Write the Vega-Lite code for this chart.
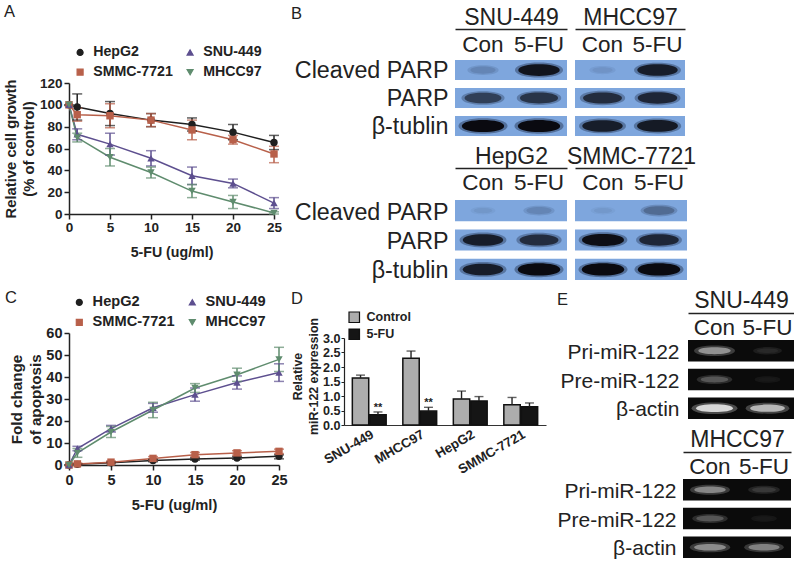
{"$schema":"https://vega.github.io/schema/vega-lite/v6.json","padding":{"left":3,"top":0,"right":0,"bottom":0},"background":"white","bounds":"flush","spacing":212,
"config":{"view":{"stroke":null},"font":"Liberation Sans","title":{"font":"Liberation Sans","fontWeight":"normal","fontSize":16.5,"color":"#222","anchor":"start","frame":"group"},
"axis":{"labelFont":"Liberation Sans","titleFont":"Liberation Sans","labelColor":"#222","titleColor":"#222","grid":false,"labelFlush":false}},
"datasets":{
"growth":[
{"cell":"HepG2","dose":0,"v":100,"lo":100,"hi":100},{"cell":"HepG2","dose":1,"v":98,"lo":86,"hi":110},{"cell":"HepG2","dose":5,"v":92,"lo":81,"hi":103},{"cell":"HepG2","dose":10,"v":86,"lo":80,"hi":92},{"cell":"HepG2","dose":15,"v":82,"lo":76,"hi":88},{"cell":"HepG2","dose":20,"v":75,"lo":68,"hi":82},{"cell":"HepG2","dose":25,"v":65.5,"lo":59,"hi":72},
{"cell":"SMMC-7721","dose":0,"v":100,"lo":100,"hi":100},{"cell":"SMMC-7721","dose":1,"v":91,"lo":85,"hi":97},{"cell":"SMMC-7721","dose":5,"v":90,"lo":79,"hi":101},{"cell":"SMMC-7721","dose":10,"v":86,"lo":80,"hi":92},{"cell":"SMMC-7721","dose":15,"v":77,"lo":68,"hi":86},{"cell":"SMMC-7721","dose":20,"v":68,"lo":64,"hi":72},{"cell":"SMMC-7721","dose":25,"v":55,"lo":47,"hi":62},
{"cell":"SNU-449","dose":0,"v":100,"lo":100,"hi":100},{"cell":"SNU-449","dose":1,"v":73,"lo":68,"hi":78},{"cell":"SNU-449","dose":5,"v":64,"lo":54,"hi":74},{"cell":"SNU-449","dose":10,"v":51,"lo":44,"hi":58},{"cell":"SNU-449","dose":15,"v":35,"lo":27,"hi":43},{"cell":"SNU-449","dose":20,"v":28,"lo":24,"hi":32},{"cell":"SNU-449","dose":25,"v":10,"lo":5,"hi":15},
{"cell":"MHCC97","dose":0,"v":100,"lo":100,"hi":100},{"cell":"MHCC97","dose":1,"v":70,"lo":66,"hi":74},{"cell":"MHCC97","dose":5,"v":52,"lo":44,"hi":60},{"cell":"MHCC97","dose":10,"v":38,"lo":33,"hi":43},{"cell":"MHCC97","dose":15,"v":21,"lo":15,"hi":27},{"cell":"MHCC97","dose":20,"v":11,"lo":5,"hi":17},{"cell":"MHCC97","dose":25,"v":1,"lo":0,"hi":2}],
"apoptosis":[
{"cell":"HepG2","dose":0,"v":0,"lo":0,"hi":0},{"cell":"HepG2","dose":1,"v":0.3,"lo":0,"hi":0.6},{"cell":"HepG2","dose":5,"v":1,"lo":0.6,"hi":1.4},{"cell":"HepG2","dose":10,"v":2,"lo":1.5,"hi":2.5},{"cell":"HepG2","dose":15,"v":2.7,"lo":2.2,"hi":3.2},{"cell":"HepG2","dose":20,"v":3.2,"lo":2.6,"hi":3.8},{"cell":"HepG2","dose":25,"v":4,"lo":2.8,"hi":4.6},
{"cell":"SMMC-7721","dose":0,"v":0,"lo":0,"hi":0},{"cell":"SMMC-7721","dose":1,"v":0.5,"lo":0.1,"hi":0.9},{"cell":"SMMC-7721","dose":5,"v":1.3,"lo":0.8,"hi":1.8},{"cell":"SMMC-7721","dose":10,"v":3,"lo":2.2,"hi":3.8},{"cell":"SMMC-7721","dose":15,"v":4.7,"lo":3.7,"hi":5.7},{"cell":"SMMC-7721","dose":20,"v":5.5,"lo":4.5,"hi":6.5},{"cell":"SMMC-7721","dose":25,"v":6.2,"lo":5.2,"hi":7.2},
{"cell":"SNU-449","dose":0,"v":0,"lo":0,"hi":0},{"cell":"SNU-449","dose":1,"v":7.5,"lo":6.5,"hi":8.5},{"cell":"SNU-449","dose":5,"v":16.5,"lo":15,"hi":18},{"cell":"SNU-449","dose":10,"v":26,"lo":24,"hi":28},{"cell":"SNU-449","dose":15,"v":32,"lo":29,"hi":35},{"cell":"SNU-449","dose":20,"v":37.5,"lo":34.5,"hi":40.5},{"cell":"SNU-449","dose":25,"v":42,"lo":38,"hi":46},
{"cell":"MHCC97","dose":0,"v":0,"lo":0,"hi":0},{"cell":"MHCC97","dose":1,"v":5.5,"lo":3.5,"hi":7.5},{"cell":"MHCC97","dose":5,"v":15,"lo":12.5,"hi":17.5},{"cell":"MHCC97","dose":10,"v":25,"lo":21.5,"hi":28.5},{"cell":"MHCC97","dose":15,"v":35,"lo":33,"hi":37},{"cell":"MHCC97","dose":20,"v":41,"lo":38,"hi":44},{"cell":"MHCC97","dose":25,"v":48,"lo":42.5,"hi":53.5}],
"expr":[
{"cell":"SNU-449","group":"Control","v":1.62,"hi":1.72},{"cell":"SNU-449","group":"5-FU","v":0.35,"hi":0.45,"mark":"**"},
{"cell":"MHCC97","group":"Control","v":2.3,"hi":2.55},{"cell":"MHCC97","group":"5-FU","v":0.48,"hi":0.61,"mark":"**"},
{"cell":"HepG2","group":"Control","v":0.9,"hi":1.17},{"cell":"HepG2","group":"5-FU","v":0.83,"hi":0.98},
{"cell":"SMMC-7721","group":"Control","v":0.7,"hi":0.95},{"cell":"SMMC-7721","group":"5-FU","v":0.63,"hi":0.76}],
"blots":[
{"cell":"SNU-449","protein":"Cleaved PARP","lane":"Con","s":0.25},{"cell":"SNU-449","protein":"Cleaved PARP","lane":"5-FU","s":0.95},{"cell":"SNU-449","protein":"PARP","lane":"Con","s":0.72},{"cell":"SNU-449","protein":"PARP","lane":"5-FU","s":0.78},{"cell":"SNU-449","protein":"β-tublin","lane":"Con","s":1},{"cell":"SNU-449","protein":"β-tublin","lane":"5-FU","s":1},
{"cell":"MHCC97","protein":"Cleaved PARP","lane":"Con","s":0.1},{"cell":"MHCC97","protein":"Cleaved PARP","lane":"5-FU","s":0.9},{"cell":"MHCC97","protein":"PARP","lane":"Con","s":0.82},{"cell":"MHCC97","protein":"PARP","lane":"5-FU","s":0.85},{"cell":"MHCC97","protein":"β-tublin","lane":"Con","s":0.9},{"cell":"MHCC97","protein":"β-tublin","lane":"5-FU","s":0.92},
{"cell":"HepG2","protein":"Cleaved PARP","lane":"Con","s":0.06},{"cell":"HepG2","protein":"Cleaved PARP","lane":"5-FU","s":0.25},{"cell":"HepG2","protein":"PARP","lane":"Con","s":0.9},{"cell":"HepG2","protein":"PARP","lane":"5-FU","s":0.82},{"cell":"HepG2","protein":"β-tublin","lane":"Con","s":0.9},{"cell":"HepG2","protein":"β-tublin","lane":"5-FU","s":1},
{"cell":"SMMC-7721","protein":"Cleaved PARP","lane":"Con","s":0.05},{"cell":"SMMC-7721","protein":"Cleaved PARP","lane":"5-FU","s":0.45},{"cell":"SMMC-7721","protein":"PARP","lane":"Con","s":0.98},{"cell":"SMMC-7721","protein":"PARP","lane":"5-FU","s":0.85},{"cell":"SMMC-7721","protein":"β-tublin","lane":"Con","s":1},{"cell":"SMMC-7721","protein":"β-tublin","lane":"5-FU","s":1}],
"gels":[
{"cell":"SNU-449","rna":"Pri-miR-122","lane":"Con","s":0.75},{"cell":"SNU-449","rna":"Pri-miR-122","lane":"5-FU","s":0.25},{"cell":"SNU-449","rna":"Pre-miR-122","lane":"Con","s":0.5},{"cell":"SNU-449","rna":"Pre-miR-122","lane":"5-FU","s":0.15},{"cell":"SNU-449","rna":"β-actin","lane":"Con","s":1},{"cell":"SNU-449","rna":"β-actin","lane":"5-FU","s":0.88},
{"cell":"MHCC97","rna":"Pri-miR-122","lane":"Con","s":0.7},{"cell":"MHCC97","rna":"Pri-miR-122","lane":"5-FU","s":0.35},{"cell":"MHCC97","rna":"Pre-miR-122","lane":"Con","s":0.5},{"cell":"MHCC97","rna":"Pre-miR-122","lane":"5-FU","s":0.15},{"cell":"MHCC97","rna":"β-actin","lane":"Con","s":0.72},{"cell":"MHCC97","rna":"β-actin","lane":"5-FU","s":0.68}]
},
"hconcat":[
{"bounds":"flush","spacing":0,"resolve":{"scale":{"color":"independent","shape":"independent"},"legend":{"color":"independent"}},"vconcat":[
 {"width":10,"height":83,"data":{"values":[{"s":1}]},"mark":{"type":"point","opacity":0}},
 {"width":205,"height":131,"title":{"text":"A","offset":25,"dx":-65},"data":{"name":"growth"},
  "encoding":{"x":{"field":"dose","type":"quantitative","scale":{"domain":[0,25],"nice":false},"axis":{"values":[0,5,10,15,20,25],"title":"5-FU (ug/ml)","labelFontSize":13.5,"labelFontWeight":"bold","titleFontSize":14.2,"titleFontWeight":"bold","domainColor":"#222","tickColor":"#222","domainWidth":1.5,"tickWidth":1.5,"tickSize":5,"labelPadding":1,"titlePadding":12}},
   "color":{"field":"cell","type":"nominal","scale":{"domain":["HepG2","SMMC-7721","SNU-449","MHCC97"],"range":["#1f1f1f","#b8604a","#5d4f8f","#5f8c6e"]},"legend":null}},
  "layer":[
   {"mark":{"type":"line","strokeWidth":1.5},"encoding":{"y":{"field":"v","type":"quantitative","scale":{"domain":[0,120],"nice":false},"axis":{"values":[0,20,40,60,80,100,120],"labelOverlap":false,"title":["Relative cell growth","(% of control)"],"labelFontSize":13.5,"labelFontWeight":"bold","titleFontSize":14.8,"titleFontWeight":"bold","domainColor":"#222","tickColor":"#222","domainWidth":1.5,"tickWidth":1.5,"tickSize":5,"labelPadding":2,"titlePadding":3,"titleLineHeight":18}},
     "color":{"field":"cell","type":"nominal","legend":{"title":null,"orient":"none","legendX":4,"legendY":-38,"columns":2,"columnPadding":10,"rowPadding":5,"labelFont":"Liberation Sans","labelFontSize":14.2,"labelFontWeight":"bold","labelColor":"#222","labelOffset":6,"symbolSize":36,"symbolStrokeWidth":1.2,
       "encode":{"symbols":{"update":{"shape":{"signal":"{'HepG2':'circle','SMMC-7721':'square','SNU-449':'triangle-up','MHCC97':'triangle-down'}[datum.value]"},"fill":{"signal":"{'HepG2':'#1f1f1f','SMMC-7721':'#b8604a','SNU-449':'#5d4f8f','MHCC97':'#5f8c6e'}[datum.value]"}}}}}}}},
   {"mark":{"type":"rule","strokeWidth":1.5},"encoding":{"y":{"field":"lo","type":"quantitative","axis":{"values":[0,20,40,60,80,100,120]}},"y2":{"field":"hi"}}},
   {"mark":{"type":"tick","orient":"horizontal","size":10,"thickness":1.5},"encoding":{"y":{"field":"lo","type":"quantitative","axis":{"values":[0,20,40,60,80,100,120]}}}},
   {"mark":{"type":"tick","orient":"horizontal","size":10,"thickness":1.5},"encoding":{"y":{"field":"hi","type":"quantitative","axis":{"values":[0,20,40,60,80,100,120]}}}},
   {"mark":{"type":"point","filled":true,"opacity":1,"size":55},"encoding":{"y":{"field":"v","type":"quantitative","axis":{"values":[0,20,40,60,80,100,120]}},"shape":{"field":"cell","type":"nominal","scale":{"domain":["HepG2","SMMC-7721","SNU-449","MHCC97"],"range":["circle","square","triangle-up","triangle-down"]},"legend":null}}}
  ]},
 {"width":10,"height":119,"data":{"values":[{"s":1}]},"mark":{"type":"point","opacity":0}},
 {"width":210,"height":132,"title":{"text":"C","offset":-11,"dx":-64},"data":{"name":"apoptosis"},
  "encoding":{"x":{"field":"dose","type":"quantitative","scale":{"domain":[0,25],"nice":false},"axis":{"values":[0,5,10,15,20,25],"title":"5-FU (ug/ml)","labelFontSize":14.5,"labelFontWeight":"bold","titleFontSize":14.7,"titleFontWeight":"bold","domainColor":"#222","tickColor":"#222","domainWidth":1.5,"tickWidth":1.5,"tickSize":5,"labelPadding":3,"titlePadding":11}},
   "color":{"field":"cell","type":"nominal","scale":{"domain":["HepG2","SMMC-7721","SNU-449","MHCC97"],"range":["#1f1f1f","#b8604a","#5d4f8f","#5f8c6e"]},"legend":null}},
  "layer":[
   {"mark":{"type":"line","strokeWidth":1.5},"encoding":{"y":{"field":"v","type":"quantitative","scale":{"domain":[0,60],"nice":false},"axis":{"values":[0,10,20,30,40,50,60],"labelOverlap":false,"title":["Fold change","of apoptosis"],"labelFontSize":14.5,"labelFontWeight":"bold","titleFontSize":15.2,"titleFontWeight":"bold","domainColor":"#222","tickColor":"#222","domainWidth":1.5,"tickWidth":1.5,"tickSize":5,"labelPadding":2,"titlePadding":2,"titleLineHeight":19}},
     "color":{"field":"cell","type":"nominal","legend":{"title":null,"orient":"none","legendX":3,"legendY":-38,"columns":2,"columnPadding":10,"rowPadding":5,"labelFont":"Liberation Sans","labelFontSize":14.6,"labelFontWeight":"bold","labelColor":"#222","labelOffset":6,"symbolSize":36,"symbolStrokeWidth":1.2,
       "encode":{"symbols":{"update":{"shape":{"signal":"{'HepG2':'circle','SMMC-7721':'square','SNU-449':'triangle-up','MHCC97':'triangle-down'}[datum.value]"},"fill":{"signal":"{'HepG2':'#1f1f1f','SMMC-7721':'#b8604a','SNU-449':'#5d4f8f','MHCC97':'#5f8c6e'}[datum.value]"}}}}}}}},
   {"mark":{"type":"rule","strokeWidth":1.5},"encoding":{"y":{"field":"lo","type":"quantitative","axis":{"values":[0,10,20,30,40,50,60]}},"y2":{"field":"hi"}}},
   {"mark":{"type":"tick","orient":"horizontal","size":10,"thickness":1.5},"encoding":{"y":{"field":"lo","type":"quantitative","axis":{"values":[0,10,20,30,40,50,60]}}}},
   {"mark":{"type":"tick","orient":"horizontal","size":10,"thickness":1.5},"encoding":{"y":{"field":"hi","type":"quantitative","axis":{"values":[0,10,20,30,40,50,60]}}}},
   {"mark":{"type":"point","filled":true,"opacity":1,"size":55},"encoding":{"y":{"field":"v","type":"quantitative","axis":{"values":[0,10,20,30,40,50,60]}},"shape":{"field":"cell","type":"nominal","scale":{"domain":["HepG2","SMMC-7721","SNU-449","MHCC97"],"range":["circle","square","triangle-up","triangle-down"]},"legend":null}}}
  ]}
]},
{"bounds":"flush","spacing":0,"vconcat":[
 {"width":10,"height":60,"data":{"values":[{"s":1}]},"mark":{"type":"point","opacity":0}},
 {"bounds":"flush","spacing":8,"hconcat":[
  {"width":166,"height":76,"data":{"values":[{"s":1}]},"mark":{"type":"point","opacity":0}},
  {"width":112,"height":76,"title":{"text":"B","offset":-16,"dx":-164},"data":{"name":"blots"},"transform":[{"filter":"datum.cell==='SNU-449'"}],
   "resolve":{"scale":{"size":"independent","opacity":"independent"}},
   "encoding":{"x":{"field":"lane","type":"nominal","sort":["Con","5-FU"],"scale":{"type":"band","padding":0},"axis":{"orient":"top","offset":31,"title":"SNU-449","titleFontSize":23,"titleFontWeight":"normal","titlePadding":-1,"labelAngle":0,"labelFontSize":22.5,"labelPadding":-27,"tickSize":0,"domainColor":"#222","domainWidth":1.6}},
    "y":{"field":"protein","type":"nominal","sort":["Cleaved PARP","PARP","β-tublin"],"scale":{"type":"band","paddingInner":0.28,"paddingOuter":0},"axis":{"title":null,"domain":false,"ticks":false,"labelFontSize":23.3,"labelPadding":7,"labelLimit":300,"labelOffset":1}}},
   "layer":[
    {"mark":{"type":"rect","fill":"#7ea6dd"}},
    {"mark":{"type":"point","filled":true,"fill":"#14203a","shape":"M-1,0C-1,-0.42 1,-0.42 1,0C1,0.42 -1,0.42 -1,0Z"},"encoding":{"size":{"field":"s","type":"quantitative","legend":null,"scale":{"domain":[0,1],"range":[500,2400]}},"opacity":{"field":"s","type":"quantitative","legend":null,"scale":{"domain":[0,1],"range":[0.03,0.4]}}}},
    {"mark":{"type":"point","filled":true,"fill":"#0a0a10","shape":"M-1,0C-1,-0.38 1,-0.38 1,0C1,0.38 -1,0.38 -1,0Z"},"encoding":{"size":{"field":"s","type":"quantitative","legend":null,"scale":{"domain":[0,1],"range":[250,1800]}},"opacity":{"field":"s","type":"quantitative","legend":null,"scale":{"type":"pow","exponent":2,"domain":[0,1],"range":[0.05,1]}}}}
   ]},
  {"width":110,"height":76,"data":{"name":"blots"},"transform":[{"filter":"datum.cell==='MHCC97'"}],
   "resolve":{"scale":{"size":"independent","opacity":"independent"}},
   "encoding":{"x":{"field":"lane","type":"nominal","sort":["Con","5-FU"],"scale":{"type":"band","padding":0},"axis":{"orient":"top","offset":31,"title":"MHCC97","titleFontSize":23,"titleFontWeight":"normal","titlePadding":-1,"labelAngle":0,"labelFontSize":22.5,"labelPadding":-27,"tickSize":0,"domainColor":"#222","domainWidth":1.6}},
    "y":{"field":"protein","type":"nominal","sort":["Cleaved PARP","PARP","β-tublin"],"scale":{"type":"band","paddingInner":0.28,"paddingOuter":0},"axis":null}},
   "layer":[
    {"mark":{"type":"rect","fill":"#7ea6dd"}},
    {"mark":{"type":"point","filled":true,"fill":"#14203a","shape":"M-1,0C-1,-0.42 1,-0.42 1,0C1,0.42 -1,0.42 -1,0Z"},"encoding":{"size":{"field":"s","type":"quantitative","legend":null,"scale":{"domain":[0,1],"range":[500,2400]}},"opacity":{"field":"s","type":"quantitative","legend":null,"scale":{"domain":[0,1],"range":[0.03,0.4]}}}},
    {"mark":{"type":"point","filled":true,"fill":"#0a0a10","shape":"M-1,0C-1,-0.38 1,-0.38 1,0C1,0.38 -1,0.38 -1,0Z"},"encoding":{"size":{"field":"s","type":"quantitative","legend":null,"scale":{"domain":[0,1],"range":[250,1800]}},"opacity":{"field":"s","type":"quantitative","legend":null,"scale":{"type":"pow","exponent":2,"domain":[0,1],"range":[0.05,1]}}}}
   ]}
 ]},
 {"width":10,"height":140,"data":{"values":[{"s":1}]},"mark":{"type":"point","opacity":0}},
 {"bounds":"flush","spacing":8,"hconcat":[
  {"width":166,"height":80,"data":{"values":[{"s":1}]},"mark":{"type":"point","opacity":0}},
  {"width":112,"height":80,"data":{"name":"blots"},"transform":[{"filter":"datum.cell==='HepG2'"}],
   "resolve":{"scale":{"size":"independent","opacity":"independent"}},
   "encoding":{"x":{"field":"lane","type":"nominal","sort":["Con","5-FU"],"scale":{"type":"band","padding":0},"axis":{"orient":"top","offset":32,"title":"HepG2","titleFontSize":23,"titleFontWeight":"normal","titlePadding":-1,"labelAngle":0,"labelFontSize":22.5,"labelPadding":-26,"tickSize":0,"domainColor":"#222","domainWidth":1.6}},
    "y":{"field":"protein","type":"nominal","sort":["Cleaved PARP","PARP","β-tublin"],"scale":{"type":"band","paddingInner":0.28,"paddingOuter":0},"axis":{"title":null,"domain":false,"ticks":false,"labelFontSize":23.3,"labelPadding":7,"labelLimit":300,"labelOffset":2}}},
   "layer":[
    {"mark":{"type":"rect","fill":"#7ea6dd"}},
    {"mark":{"type":"point","filled":true,"fill":"#14203a","shape":"M-1,0C-1,-0.42 1,-0.42 1,0C1,0.42 -1,0.42 -1,0Z"},"encoding":{"size":{"field":"s","type":"quantitative","legend":null,"scale":{"domain":[0,1],"range":[500,2400]}},"opacity":{"field":"s","type":"quantitative","legend":null,"scale":{"domain":[0,1],"range":[0.03,0.4]}}}},
    {"mark":{"type":"point","filled":true,"fill":"#0a0a10","shape":"M-1,0C-1,-0.38 1,-0.38 1,0C1,0.38 -1,0.38 -1,0Z"},"encoding":{"size":{"field":"s","type":"quantitative","legend":null,"scale":{"domain":[0,1],"range":[250,1800]}},"opacity":{"field":"s","type":"quantitative","legend":null,"scale":{"type":"pow","exponent":2,"domain":[0,1],"range":[0.05,1]}}}}
   ]},
  {"width":112,"height":80,"data":{"name":"blots"},"transform":[{"filter":"datum.cell==='SMMC-7721'"}],
   "resolve":{"scale":{"size":"independent","opacity":"independent"}},
   "encoding":{"x":{"field":"lane","type":"nominal","sort":["Con","5-FU"],"scale":{"type":"band","padding":0},"axis":{"orient":"top","offset":32,"title":"SMMC-7721","titleFontSize":23,"titleFontWeight":"normal","titlePadding":-1,"labelAngle":0,"labelFontSize":22.5,"labelPadding":-26,"tickSize":0,"domainColor":"#222","domainWidth":1.6}},
    "y":{"field":"protein","type":"nominal","sort":["Cleaved PARP","PARP","β-tublin"],"scale":{"type":"band","paddingInner":0.28,"paddingOuter":0},"axis":null}},
   "layer":[
    {"mark":{"type":"rect","fill":"#7ea6dd"}},
    {"mark":{"type":"point","filled":true,"fill":"#14203a","shape":"M-1,0C-1,-0.42 1,-0.42 1,0C1,0.42 -1,0.42 -1,0Z"},"encoding":{"size":{"field":"s","type":"quantitative","legend":null,"scale":{"domain":[0,1],"range":[500,2400]}},"opacity":{"field":"s","type":"quantitative","legend":null,"scale":{"domain":[0,1],"range":[0.03,0.4]}}}},
    {"mark":{"type":"point","filled":true,"fill":"#0a0a10","shape":"M-1,0C-1,-0.38 1,-0.38 1,0C1,0.38 -1,0.38 -1,0Z"},"encoding":{"size":{"field":"s","type":"quantitative","legend":null,"scale":{"domain":[0,1],"range":[250,1800]}},"opacity":{"field":"s","type":"quantitative","legend":null,"scale":{"type":"pow","exponent":2,"domain":[0,1],"range":[0.05,1]}}}}
   ]}
 ]},
 {"width":10,"height":138,"data":{"values":[{"s":1}]},"mark":{"type":"point","opacity":0}},
 {"bounds":"flush","spacing":0,"hconcat":[
  {"width":63,"height":10,"data":{"values":[{"s":1}]},"mark":{"type":"point","opacity":0}},
  {"width":202,"height":87,"title":{"text":"D","offset":10,"dx":-53},"data":{"name":"expr"},
   "encoding":{"x":{"field":"cell","type":"nominal","sort":["SNU-449","MHCC97","HepG2","SMMC-7721"],"scale":{"type":"band","paddingInner":0.33,"paddingOuter":0.165},"axis":{"title":null,"labelAngle":-30,"labelAlign":"right","labelBaseline":"top","labelFontSize":13.3,"labelFontWeight":"bold","ticks":false,"labelPadding":2,"domainColor":"#333","domainWidth":1.2,"labelOverlap":false}},
    "xOffset":{"field":"group","type":"nominal","sort":["Control","5-FU"],"scale":{"paddingInner":0.06}}},
   "layer":[
    {"mark":{"type":"bar","stroke":"#111","strokeWidth":1.5},"encoding":{"y":{"field":"v","type":"quantitative","scale":{"domain":[0,3],"nice":false},"axis":{"values":[0,0.5,1,1.5,2,2.5,3],"labelOverlap":false,"format":".1f","title":["Relative","miR-122 expression"],"labelFontSize":12.6,"labelFontWeight":"bold","titleFontSize":12.4,"titleFontWeight":"bold","domainColor":"#222","tickColor":"#222","domainWidth":1.2,"tickSize":3,"labelPadding":1,"titlePadding":2,"titleLineHeight":16,"titleY":38}},
      "fill":{"field":"group","type":"nominal","scale":{"domain":["Control","5-FU"],"range":["#adadad","#151515"]},"legend":{"title":null,"orient":"none","legendX":279,"legendY":311,"rowPadding":1,"labelFont":"Liberation Sans","labelFontSize":12.5,"labelFontWeight":"bold","labelColor":"#222","labelOffset":6,"symbolType":"square","symbolSize":110,"symbolStrokeColor":"#111","symbolStrokeWidth":1.2}}}},
    {"mark":{"type":"rule","stroke":"#222","strokeWidth":1.4},"encoding":{"y":{"field":"v","type":"quantitative","axis":{"values":[0,0.5,1,1.5,2,2.5,3]}},"y2":{"field":"hi"}}},
    {"mark":{"type":"tick","orient":"horizontal","size":9,"thickness":1.4,"color":"#222"},"encoding":{"y":{"field":"hi","type":"quantitative","axis":{"values":[0,0.5,1,1.5,2,2.5,3]}}}},
    {"transform":[{"filter":"isValid(datum.mark)"}],"mark":{"type":"text","fontWeight":"bold","fontSize":11,"color":"#222","dy":1,"baseline":"bottom"},"encoding":{"y":{"field":"hi","type":"quantitative","axis":{"values":[0,0.5,1,1.5,2,2.5,3]}},"text":{"field":"mark"}}}
   ]},
  {"width":137,"height":10,"data":{"values":[{"s":1}]},"mark":{"type":"point","opacity":0}},
  {"bounds":"flush","spacing":0,"vconcat":[
   {"width":10,"height":2,"data":{"values":[{"s":1}]},"mark":{"type":"point","opacity":0}},
   {"bounds":"flush","spacing":0,"hconcat":[
    {"width":5,"height":79,"data":{"values":[{"s":1}]},"mark":{"type":"point","opacity":0}},
    {"width":106,"height":79,"title":{"text":"E","offset":-19,"dx":-131},"data":{"name":"gels"},"transform":[{"filter":"datum.cell==='SNU-449'"}],
     "resolve":{"scale":{"size":"independent","opacity":"independent"}},
     "encoding":{"x":{"field":"lane","type":"nominal","sort":["Con","5-FU"],"scale":{"type":"band","padding":0},"axis":{"orient":"top","offset":27,"title":"SNU-449","titleFontSize":23,"titleFontWeight":"normal","titlePadding":0,"labelAngle":0,"labelFontSize":22.5,"labelPadding":-26,"tickSize":0,"domainColor":"#222","domainWidth":1.6}},
      "y":{"field":"rna","type":"nominal","sort":["Pri-miR-122","Pre-miR-122","β-actin"],"scale":{"type":"band","paddingInner":0.25,"paddingOuter":0},"axis":{"title":null,"domain":false,"ticks":false,"labelFontSize":21,"labelPadding":9,"labelLimit":300,"labelOffset":2}}},
     "layer":[
      {"mark":{"type":"rect","fill":"#0b0b0b"}},
      {"mark":{"type":"point","filled":true,"fill":"#777","shape":"M-1,0C-1,-0.34 1,-0.34 1,0C1,0.34 -1,0.34 -1,0Z"},"encoding":{"size":{"field":"s","type":"quantitative","legend":null,"scale":{"domain":[0,1],"range":[400,2100]}},"opacity":{"field":"s","type":"quantitative","legend":null,"scale":{"domain":[0,1],"range":[0.02,0.6]}}}},
      {"mark":{"type":"point","filled":true,"fill":"#dedede","shape":"M-1,0C-1,-0.28 1,-0.28 1,0C1,0.28 -1,0.28 -1,0Z"},"encoding":{"size":{"field":"s","type":"quantitative","legend":null,"scale":{"domain":[0,1],"range":[150,1350]}},"opacity":{"field":"s","type":"quantitative","legend":null,"scale":{"type":"pow","exponent":2,"domain":[0,1],"range":[0,0.95]}}}}
     ]}
   ]},
   {"width":10,"height":139,"data":{"values":[{"s":1}]},"mark":{"type":"point","opacity":0}},
   {"width":108,"height":79,"data":{"name":"gels"},"transform":[{"filter":"datum.cell==='MHCC97'"}],
     "resolve":{"scale":{"size":"independent","opacity":"independent"}},
     "encoding":{"x":{"field":"lane","type":"nominal","sort":["Con","5-FU"],"scale":{"type":"band","padding":0},"axis":{"orient":"top","offset":27,"title":"MHCC97","titleFontSize":23,"titleFontWeight":"normal","titlePadding":0,"labelAngle":0,"labelFontSize":22.5,"labelPadding":-26,"tickSize":0,"domainColor":"#222","domainWidth":1.6}},
      "y":{"field":"rna","type":"nominal","sort":["Pri-miR-122","Pre-miR-122","β-actin"],"scale":{"type":"band","paddingInner":0.25,"paddingOuter":0},"axis":{"title":null,"domain":false,"ticks":false,"labelFontSize":21,"labelPadding":7,"labelLimit":300,"labelOffset":2}}},
     "layer":[
      {"mark":{"type":"rect","fill":"#0b0b0b"}},
      {"mark":{"type":"point","filled":true,"fill":"#777","shape":"M-1,0C-1,-0.34 1,-0.34 1,0C1,0.34 -1,0.34 -1,0Z"},"encoding":{"size":{"field":"s","type":"quantitative","legend":null,"scale":{"domain":[0,1],"range":[400,2100]}},"opacity":{"field":"s","type":"quantitative","legend":null,"scale":{"type":"linear","domain":[0,1],"range":[0.02,0.6]}}}},
      {"mark":{"type":"point","filled":true,"fill":"#dedede","shape":"M-1,0C-1,-0.28 1,-0.28 1,0C1,0.28 -1,0.28 -1,0Z"},"encoding":{"size":{"field":"s","type":"quantitative","legend":null,"scale":{"domain":[0,1],"range":[150,1350]}},"opacity":{"field":"s","type":"quantitative","legend":null,"scale":{"type":"pow","exponent":2,"domain":[0,1],"range":[0,0.95]}}}}
     ]}
  ]}
 ]}
]}
]}
